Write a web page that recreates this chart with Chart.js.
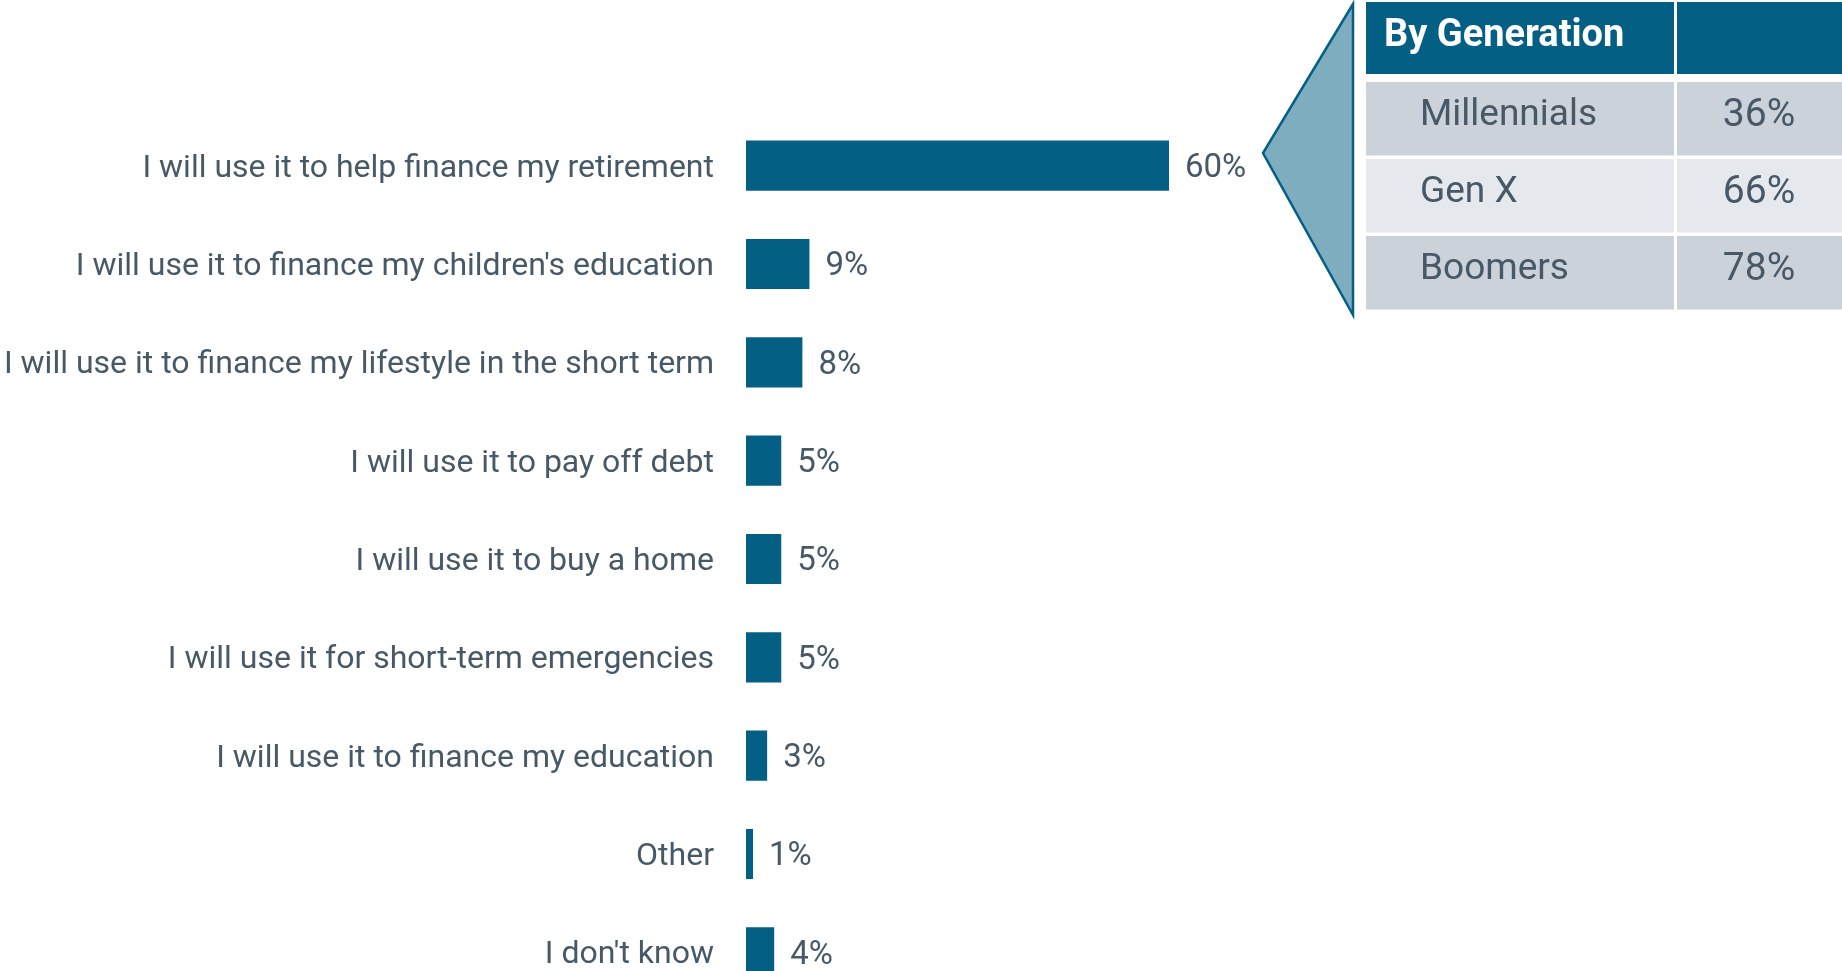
<!DOCTYPE html>
<html>
<head>
<meta charset="utf-8">
<script src="https://cdn.jsdelivr.net/npm/chart.js@4"></script>
<style>
  html, body { margin: 0; padding: 0; background: #fff; overflow: hidden; }
  canvas { display: block; }
</style>
</head>
<body>
<canvas id="usageChart" width="1842" height="1004"></canvas>
<script>
// Survey answers and shares
const categories = [
    'I will use it to help finance my retirement',
    "I will use it to finance my children's education",
    'I will use it to finance my lifestyle in the short term',
    'I will use it to pay off debt',
    'I will use it to buy a home',
    'I will use it for short-term emergencies',
    'I will use it to finance my education',
    'Other',
    "I don't know"
];
const values = [60, 9, 8, 5, 5, 5, 3, 1, 4];

// Breakdown of the first answer
const tableTitle = 'By Generation';
const generations = ['Millennials', 'Gen X', 'Boomers'];
const generationValues = [36, 66, 78];

const BAR_COLOR = '#035f84';
const TEXT_COLOR = '#475867';
const FONT = 'Roboto, sans-serif';

// Percent labels to the right of each bar
const valueLabels = {
    id: 'valueLabels',
    afterDatasetsDraw(chart) {
        const ctx = chart.ctx;
        const meta = chart.getDatasetMeta(0);
        ctx.save();
        ctx.font = `33px ${FONT}`;
        ctx.fillStyle = TEXT_COLOR;
        ctx.textAlign = 'left';
        ctx.textBaseline = 'middle';
        meta.data.forEach((bar, i) => {
            ctx.fillText(values[i] + '%', bar.x + 16, bar.y + 3);
        });
        ctx.restore();
    }
};

// Callout arrow + generation table
const generationTable = {
    id: 'generationTable',
    afterDraw(chart) {
        const ctx = chart.ctx;
        const colA = { x: 1366, w: 308 };
        const colB = { x: 1677, w: 165 };
        ctx.save();

        // arrow pointing at the first bar
        ctx.beginPath();
        ctx.moveTo(1353, 4);
        ctx.lineTo(1263, 153);
        ctx.lineTo(1353, 315);
        ctx.closePath();
        ctx.fillStyle = '#7fadc0';
        ctx.fill();
        ctx.lineWidth = 2.5;
        ctx.strokeStyle = BAR_COLOR;
        ctx.lineJoin = 'miter';
        ctx.stroke();

        // header
        ctx.fillStyle = BAR_COLOR;
        ctx.fillRect(colA.x, 2, colA.w, 72);
        ctx.fillRect(colB.x, 2, colB.w, 72);
        ctx.fillStyle = '#ffffff';
        ctx.font = `bold 38px ${FONT}`;
        ctx.textBaseline = 'middle';
        ctx.textAlign = 'left';
        ctx.fillText(tableTitle, 1384, 36);

        // rows
        generations.forEach((name, i) => {
            const top = 82 + i * 77;
            const h = 73.5;
            ctx.fillStyle = i % 2 === 0 ? '#cbd2da' : '#e5e9ed';
            ctx.fillRect(colA.x, top, colA.w, h);
            ctx.fillRect(colB.x, top, colB.w, h);
            ctx.fillStyle = TEXT_COLOR;
            ctx.font = `37px ${FONT}`;
            ctx.textAlign = 'left';
            ctx.fillText(name, 1420, top + h / 2 - 3);
            ctx.font = `39px ${FONT}`;
            ctx.textAlign = 'center';
            ctx.fillText(generationValues[i] + '%', colB.x + 82, top + h / 2 - 3);
        });
        ctx.restore();
    }
};

const chart = new Chart(document.getElementById('usageChart'), {
    type: 'bar',
    data: {
        labels: categories,
        datasets: [{
            data: values,
            backgroundColor: BAR_COLOR,
            borderWidth: 0,
            barPercentage: 1,
            categoryPercentage: 0.51
        }]
    },
    options: {
        indexAxis: 'y',
        responsive: false,
        animation: false,
        layout: {
            padding: { top: 116.5, bottom: 2.5, left: 0, right: 391 }
        },
        plugins: {
            legend: { display: false },
            tooltip: { enabled: false }
        },
        scales: {
            x: {
                display: false,
                min: 0,
                max: 100
            },
            y: {
                grid: { display: false, drawTicks: false },
                border: { display: false },
                afterFit(scale) {
                    // fixed label column; no extra room above/below the bands
                    scale.width = 746;
                    scale.paddingTop = 0;
                    scale.paddingBottom = 0;
                },
                ticks: {
                    padding: 32,
                    labelOffset: 3,
                    color: TEXT_COLOR,
                    font: { family: FONT, size: 32 }
                }
            }
        }
    },
    plugins: [valueLabels, generationTable]
});
</script>
</body>
</html>
